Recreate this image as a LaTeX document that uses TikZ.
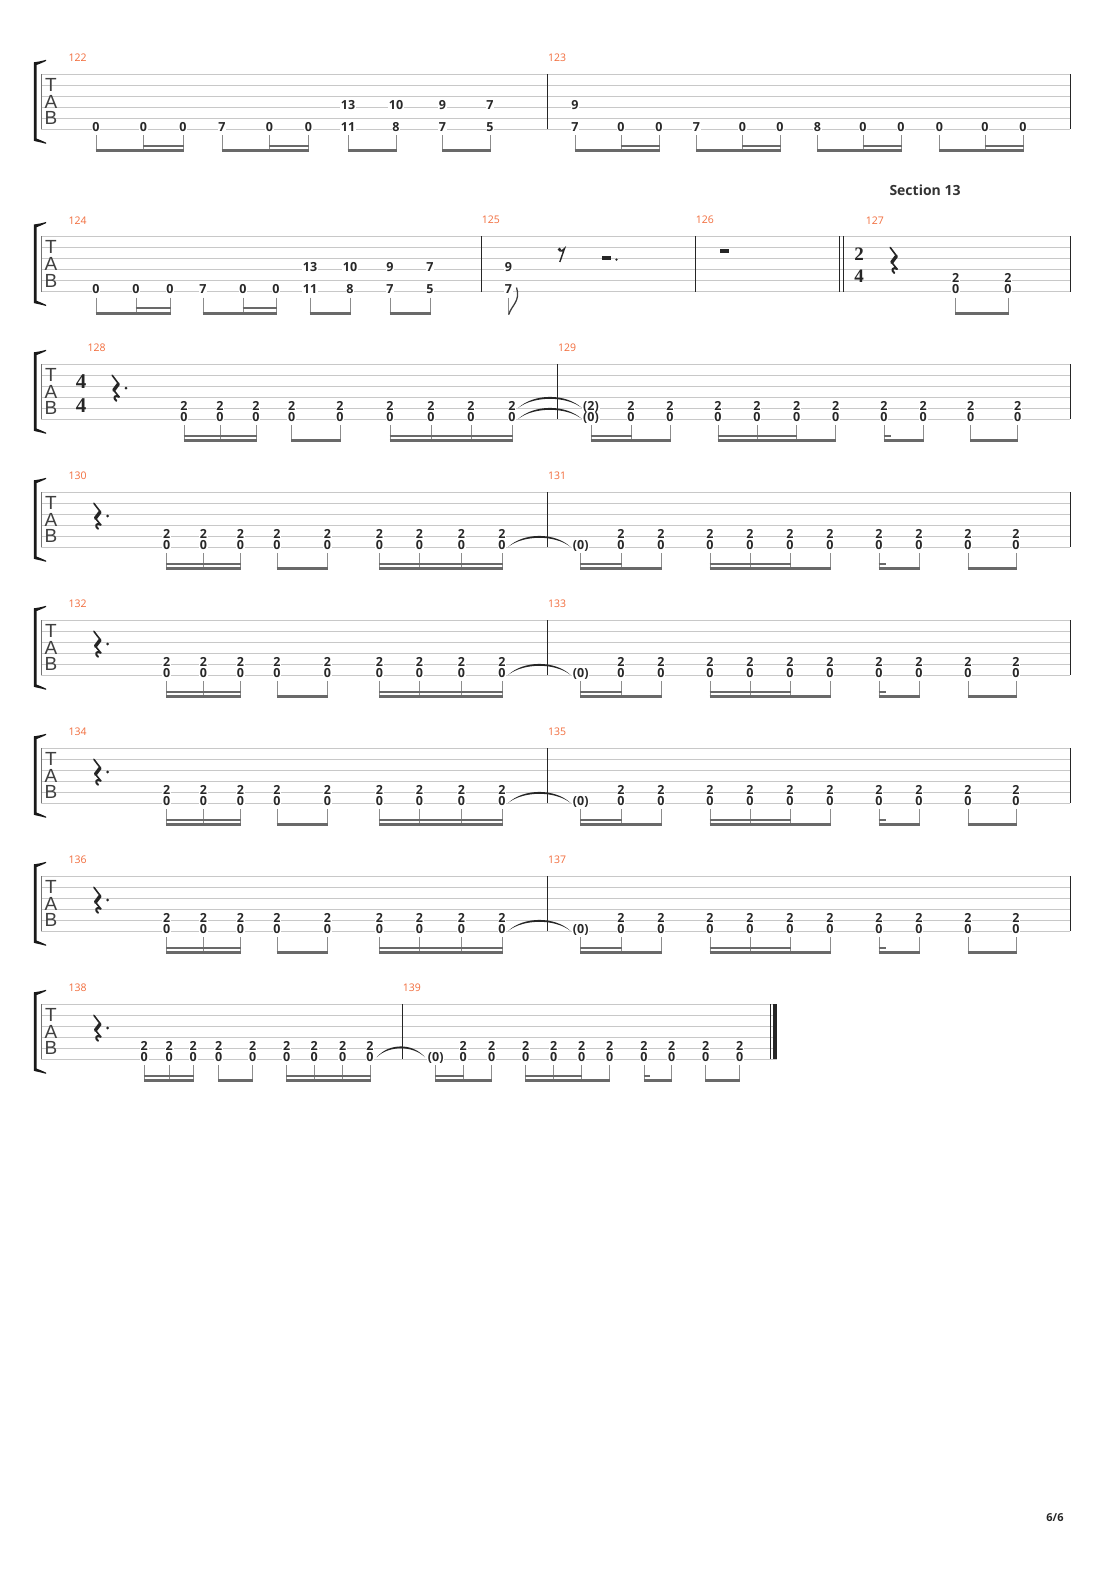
\documentclass[tikz,border=0pt]{standalone}
\usepackage{fontspec}
\newfontfamily\osans{Open Sans}
\newfontfamily\lsans{Liberation Sans}
\newfontfamily\tserif{Liberation Serif}
\definecolor{mnum}{RGB}{242,109,61}
\definecolor{staffc}{RGB}{200,200,200}
\definecolor{beamc}{RGB}{105,105,105}
\definecolor{stemc}{RGB}{140,140,140}
\definecolor{fretc}{RGB}{40,40,40}
\newcounter{nn}
\tikzset{
  fret/.style={anchor=base, fill=white, inner sep=0.8pt, text=fretc, font=\osans\bfseries\fontsize{12.5}{12.5}\selectfont},
  mnumst/.style={anchor=west, inner sep=0pt, text=mnum, font=\osans\fontsize{10.5}{10.5}\selectfont},
  tabletter/.style={inner sep=0pt, text=black!75, font=\lsans\fontsize{19}{19}\selectfont},
  tsigst/.style={inner sep=0pt, text=black!85, align=center},
  stline/.style={draw=staffc, line width=0.8pt},
  barl/.style={draw=black!85, line width=1pt},
  stemst/.style={draw=stemc, line width=1pt},
  mbeam/.style={draw=beamc, line width=3pt},
  sbeam/.style={draw=beamc, line width=2.2pt},
}
\newcommand\fretnum[3]{\stepcounter{nn}\node[fret] (n\thenn) at (#1,#2+2.3) {#3};}
\newcommand\sgl[3]{\fretnum{#1}{#2+55}{#3}}
\newcommand\prr[4]{\fretnum{#1}{#2+33}{#3}\fretnum{#1}{#2+55}{#4}}
\newcommand\chd[2]{\fretnum{#1}{#2+44}{2}\fretnum{#1}{#2+55}{0}}
\newcommand\stemsat[2]{\foreach \sx in {#2} {\draw[stemst] (\sx,#1+61) -- (\sx,#1+78);}}
\newcommand\mainb[3]{\draw[mbeam] (#2-0.5,#1+76.5) -- (#3+0.5,#1+76.5);}
\newcommand\secb[3]{\draw[sbeam] (#2-0.5,#1+71.5) -- (#3+0.5,#1+71.5);}
\newcommand\barx[2]{\draw[barl] (#2,#1) -- (#2,#1+55);}
\newcommand\mnumb[3]{\stepcounter{nn}\node[mnumst] (n\thenn) at (#1,#2) {#3};}
\newcommand\mytie[3]{%
  \pgfmathsetmacro\tiea{#1+0.25*(#2-#1)}%
  \pgfmathsetmacro\tieb{#1+0.75*(#2-#1)}%
  \fill[black!85] (#1,#3) .. controls (\tiea,#3-14.5) and (\tieb,#3-14.5) .. (#2,#3)
     .. controls (\tieb,#3-12) and (\tiea,#3-12) .. cycle;}
\newcommand\qrest[3]{%
  \begin{scope}[shift={(#1,#2)}, line cap=round, line join=round]
    \draw[black!85,line width=1.6pt] (2.2,11) -- (8.6,19.5);
    \draw[black!85,line width=3.4pt] (8.3,19.8) -- (3.8,25.8);
    \draw[black!85,line width=1.6pt] (3.8,26) -- (9,32.5);
    \draw[black!85,line width=2pt] (9,32.5) .. controls (5,30) and (2.5,33.5) .. (6.3,36.5);
    \ifnum#3=1 \fill[black!85] (16,23.7) circle[radius=1.5pt];\fi
  \end{scope}}
\newcommand\tabstaff[2]{%
  \foreach \i in {0,...,5} {\draw[stline] (41,#1+\i*11) -- (#2,#1+\i*11);}
  \draw[draw=black!55, line width=0.8pt] (41,#1) -- (41,#1+55);
  \fill[black!90] (33.8,#1-12) -- (33.8,#1+66.5) .. controls (37,#1+67.5) and (41,#1+68) .. (46,#1+69.5)
     -- (46,#1+68.3) .. controls (42,#1+66.5) and (39,#1+65) .. (36.6,#1+64.3)
     -- (36.6,#1-9.3) .. controls (39,#1-10) and (42,#1-11.5) .. (46,#1-13.3)
     -- (46,#1-14.5) .. controls (41,#1-13) and (37,#1-12.5) .. cycle;
  \stepcounter{nn}\node[tabletter] (n\thenn) at (51,#1+10.7) {T};
  \stepcounter{nn}\node[tabletter] (n\thenn) at (51,#1+27.4) {A};
  \stepcounter{nn}\node[tabletter] (n\thenn) at (51,#1+44) {B};
}
\newcommand\repsys[3]{%
  \tabstaff{#1}{1070}
  \mnumb{68.3}{#1-16.3}{#2}\mnumb{548}{#1-16.3}{#3}
  \qrest{91.7}{#1}{1}
  \foreach \x in {166.6,203.5,240.5,277,327.5,379.5,419.5,461.5,502,621,661,710,750,790,830,879,919,968,1016} {\chd{\x}{#1}}
  \sgl{580.7}{#1}{(0)}
  \stemsat{#1}{166.6,203.5,240.5,277,327.5,379.5,419.5,461.5,502,580.7,621,661,710,750,790,830,879,919,968,1016}
  \mainb{#1}{166.6}{240.5}\secb{#1}{166.6}{240.5}
  \mainb{#1}{277}{327.5}
  \mainb{#1}{379.5}{502}\secb{#1}{379.5}{502}
  \mainb{#1}{580.7}{661}\secb{#1}{580.7}{621}
  \mainb{#1}{710}{830}\secb{#1}{710}{790}
  \mainb{#1}{879}{919}\secb{#1}{879}{885}
  \mainb{#1}{968}{1016}
  \barx{#1}{547.6}\barx{#1}{1070}
  \mytie{508.3}{570.4}{#1+54.5}
}
\begin{document}
\begin{tikzpicture}[x=1pt,y=-1pt]
\fill[white] (0,0) rectangle (1110,1570);
\useasboundingbox (0,0) rectangle (1110,1570);

% ---------- System 1 ----------
\tabstaff{74.3}{1070}
\mnumb{68.3}{58}{122}\mnumb{548}{58}{123}
\foreach \x/\f in {96/0,143.5/0,183/0,222/7,269.5/0,308.5/0,621/0,659/0,696.5/7,742.5/0,780/0,817.5/8,863/0,901/0,939.5/0,985/0,1023/0} {\sgl{\x}{74.3}{\f}}
\foreach \x/\a/\b in {348/13/11,396/10/8,442.5/9/7,490/7/5,575/9/7} {\prr{\x}{74.3}{\a}{\b}}
\stemsat{74.3}{96,143.5,183,222,269.5,308.5,348,396,442.5,490,575,621,659,696.5,742.5,780,817.5,863,901,939.5,985,1023}
\mainb{74.3}{96}{183}\secb{74.3}{143.5}{183}
\mainb{74.3}{222}{308.5}\secb{74.3}{269.5}{308.5}
\mainb{74.3}{348}{396}
\mainb{74.3}{442.5}{490}
\mainb{74.3}{575}{659}\secb{74.3}{621}{659}
\mainb{74.3}{696.5}{780}\secb{74.3}{742.5}{780}
\mainb{74.3}{817.5}{901}\secb{74.3}{863}{901}
\mainb{74.3}{939.5}{1023}\secb{74.3}{985}{1023}
\barx{74.3}{547.5}\barx{74.3}{1070}

% ---------- System 2 ----------
\node[inner sep=0pt, text=black!80, font=\osans\bfseries\fontsize{14}{14}\selectfont] (sect) at (925,190) {Section 13};
\tabstaff{236.5}{1070}
\mnumb{68.3}{220.2}{124}\mnumb{481.7}{220.2}{125}\mnumb{695.7}{220.2}{126}\mnumb{865.7}{220.2}{127}
\foreach \x/\f in {96/0,136/0,170/0,203/7,243/0,276/0} {\sgl{\x}{236.5}{\f}}
\foreach \x/\a/\b in {310/13/11,350/10/8,390/9/7,430/7/5,508.5/9/7} {\prr{\x}{236.5}{\a}{\b}}
\stemsat{236.5}{96,136,170,203,243,276,310,350,390,430,955.7,1008}
\mainb{236.5}{96}{170}\secb{236.5}{136}{170}
\mainb{236.5}{203}{276}\secb{236.5}{243}{276}
\mainb{236.5}{310}{350}
\mainb{236.5}{390}{430}
% m125 flagged eighth
\draw[stemst] (508.8,297.5) -- (508.8,315);
\draw[black!75, line width=1.3pt] (508.8,314.5) .. controls (511,306) and (521,301) .. (516.5,287.5);
% eighth rest
\fill[black!85] (559.5,249.5) circle[radius=1.9pt];
\draw[black!85, line width=1.4pt] (559.5,251) .. controls (561,251.8) and (563,250.8) .. (564.5,248.5) -- (559.8,262);
% dotted half rest
\fill[black!85] (602.3,256) rectangle (611,260.2);
\fill[black!85] (616.5,259.6) circle[radius=1.3pt];
% whole rest
\fill[black!85] (720,249) rectangle (729.3,253.3);
% m127
\chd{955.7}{236.5}\chd{1008}{236.5}
\mainb{236.5}{955.7}{1008}
\node[tsigst, font=\tserif\bfseries\fontsize{19}{22}\selectfont] (ts1) at (859,265) {2\\4};
\qrest{888}{236.5}{0}
\barx{236.5}{481}\barx{236.5}{695.7}
\draw[barl] (839.3,236.5) -- (839.3,291.5);
\draw[barl] (843.3,236.5) -- (843.3,291.5);
\barx{236.5}{1070}

% ---------- System 3 ----------
\tabstaff{364.3}{1070}
\mnumb{87.3}{348}{128}\mnumb{558}{348}{129}
\node[tsigst, font=\tserif\bfseries\fontsize{21}{23.4}\selectfont] (ts3) at (81,393.6) {4\\4};
\qrest{110}{364.3}{1}
\foreach \x in {184,220,256,291.7,340,390,431,471,512,631,670,718,757,796.7,835.7,884,923.3,970.7,1017.7} {\chd{\x}{364.3}}
\fretnum{591}{364.3+44}{(2)}\fretnum{591}{364.3+55}{(0)}
\stemsat{364.3}{184,220,256,291.7,340,390,431,471,512,591,631,670,718,757,796.7,835.7,884,923.3,970.7,1017.7}
\mainb{364.3}{184}{256}\secb{364.3}{184}{256}
\mainb{364.3}{291.7}{340}
\mainb{364.3}{390}{512}\secb{364.3}{390}{512}
\mainb{364.3}{591}{670}\secb{364.3}{591}{631}
\mainb{364.3}{718}{835.7}\secb{364.3}{718}{796.7}
\mainb{364.3}{884}{923.3}\secb{364.3}{884}{890}
\mainb{364.3}{970.7}{1017.7}
\barx{364.3}{557}\barx{364.3}{1070}
\mytie{518.3}{581.7}{364.3+43.5}
\mytie{518.3}{581.7}{364.3+54.5}

% ---------- Systems 4-7 ----------
\repsys{492.3}{130}{131}
\repsys{620.3}{132}{133}
\repsys{748.3}{134}{135}
\repsys{876.3}{136}{137}

% ---------- System 8 ----------
\tabstaff{1004.3}{777.3}
\mnumb{68.3}{988}{138}\mnumb{402.7}{988}{139}
\qrest{91.7}{1004.3}{1}
\foreach \x in {144.3,169.3,193.3,218.7,252.7,286.7,314.3,342.7,370,463.3,491.7,525.7,553.7,581.7,609.7,644,671.7,705.7,739.7} {\chd{\x}{1004.3}}
\sgl{435.7}{1004.3}{(0)}
\stemsat{1004.3}{144.3,169.3,193.3,218.7,252.7,286.7,314.3,342.7,370,435.7,463.3,491.7,525.7,553.7,581.7,609.7,644,671.7,705.7,739.7}
\mainb{1004.3}{144.3}{193.3}\secb{1004.3}{144.3}{193.3}
\mainb{1004.3}{218.7}{252.7}
\mainb{1004.3}{286.7}{370}\secb{1004.3}{286.7}{370}
\mainb{1004.3}{435.7}{491.7}\secb{1004.3}{435.7}{463.3}
\mainb{1004.3}{525.7}{609.7}\secb{1004.3}{525.7}{581.7}
\mainb{1004.3}{644}{671.7}\secb{1004.3}{644}{649.5}
\mainb{1004.3}{705.7}{739.7}
\barx{1004.3}{402}
\draw[barl] (770,1004.3) -- (770,1059.3);
\fill[black!85] (773.3,1004.3) rectangle (777.3,1059.3);
\mytie{376.7}{425}{1004.3+53}

% page number
\node[inner sep=0pt, text=black!85, font=\osans\bfseries\fontsize{11}{11}\selectfont] (pg) at (1055,1518) {6/6};
\end{tikzpicture}
\end{document}
